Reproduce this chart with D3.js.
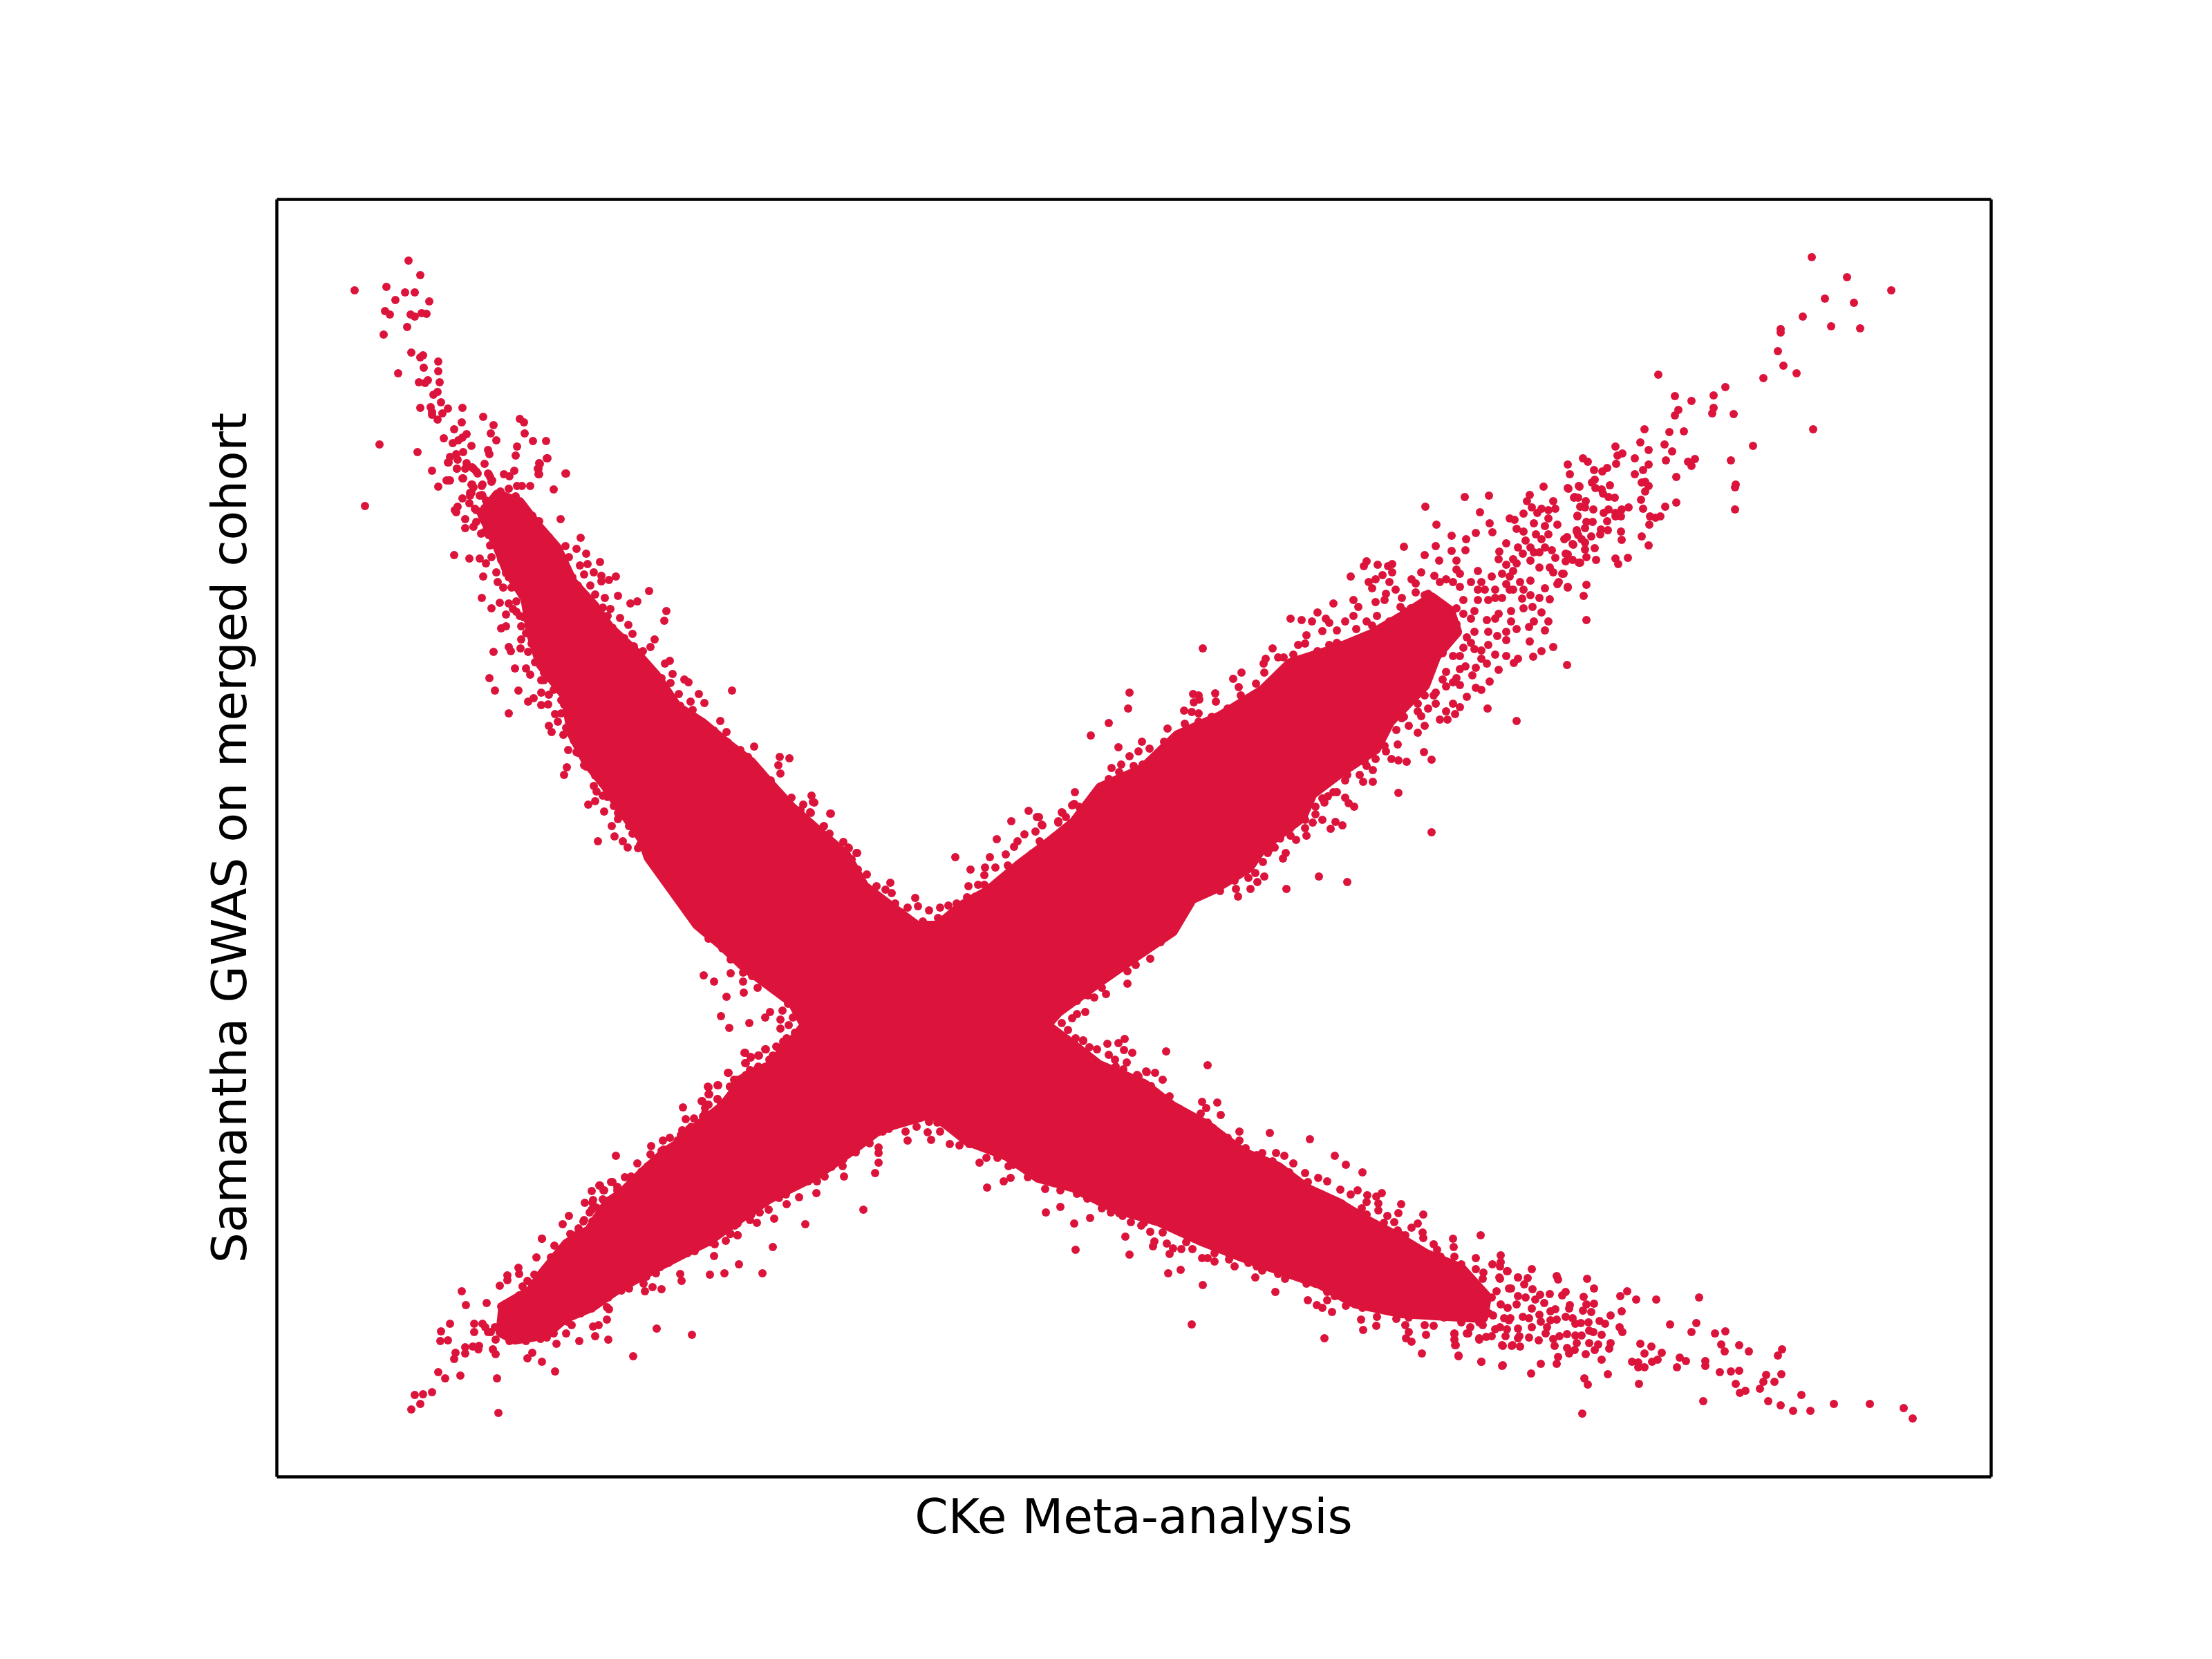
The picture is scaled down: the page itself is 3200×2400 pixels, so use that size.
<!DOCTYPE html>
<html>
<head>
<meta charset="utf-8">
<title>CKe Meta-analysis vs Samantha GWAS</title>
<script src="https://cdnjs.cloudflare.com/ajax/libs/d3/7.8.5/d3.min.js"></script>
<style>
  html, body { margin: 0; padding: 0; background: #fff; }
</style>
</head>
<body>
<div id="chart"></div>
<script>
// no ticks on the original, so the units here are only read off the picture
const xLabel = 'CKe Meta-analysis';
const yLabel = 'Samantha GWAS on merged cohort';
const xDomain = [0, 24.8];
const yDomain = [0, 18.48];

// outline of the part of the X where the dots overlap into a solid area
const denseOutline = [
  [3.2,14.2],[3.52,14.08],[3.78,13.74],[4.05,13.43],[4.28,12.93],[4.59,12.59],[4.81,12.28],[5.17,11.94],[5.48,11.59],[5.79,11.13],
  [6.15,10.9],[6.51,10.6],[6.86,10.33],[7.13,10.02],[7.44,9.68],[7.88,9.29],[8.23,8.99],[8.5,8.53],[8.95,8.19],[9.26,7.96],
  [9.57,7.96],[9.93,8.26],[10.29,8.46],[10.73,8.83],[11.13,9.13],[11.54,9.46],[11.92,9.96],[12.53,10.23],[13.04,10.72],[13.65,10.99],
  [14.27,11.37],[14.67,11.76],[15.39,11.99],[15.85,12.18],[16.31,12.45],[16.71,12.71],[16.97,12.52],[17.07,12.22],[16.77,11.87],[16.61,11.45],
  [16.1,10.92],[15.9,10.53],[15.39,10.19],[14.98,9.88],[14.83,9.54],[14.27,9.12],[14.06,8.81],[13.55,8.5],[13.24,8.36],[12.96,7.89],
  [12.43,7.53],[11.8,7.09],[11.31,6.73],[11.13,6.53],[11.53,6.23],[11.89,5.95],[12.55,5.67],[12.96,5.35],[13.47,5.07],[13.98,4.68],
  [14.49,4.47],[14.9,4.16],[15.36,3.95],[15.77,3.7],[16.22,3.46],[16.63,3.21],[17.14,3],[17.5,2.6],[17.45,2.3],
  [16.94,2.33],[16.28,2.37],[15.61,2.51],[15.1,2.79],[14.49,3],[13.98,3.18],[13.37,3.42],[12.76,3.7],[12.14,3.88],
  [11.53,4.19],[11.02,4.33],[10.56,4.65],[10,4.86],[9.71,5.09],[9.48,5.26],[8.9,5.09],[8.67,4.99],[8.33,4.73],[7.8,4.36],
  [7.13,4.03],[6.63,3.69],[6.27,3.43],[5.55,3.06],[4.95,2.73],[4.56,2.46],[4.16,2.29],[3.89,2.06],[3.45,1.99],[3.25,2.09],
  [3.29,2.46],[3.69,2.69],[3.85,2.93],[4.2,3.36],[4.53,3.56],[4.8,3.96],[5,4.09],[5.3,4.39],[5.63,4.69],[5.9,4.86],
  [6.13,5.09],[6.47,5.36],[6.8,5.79],[7.13,5.93],[7.25,6.06],[7.52,6.36],[7.65,6.53],[7.47,6.86],[7.16,7.09],[6.76,7.39],
  [6.45,7.69],[6.09,7.99],[5.39,8.96],[5.3,9.22],[5.03,9.6],[4.77,9.99],[4.5,10.33],[4.28,10.75],[4.19,11.29],[3.83,11.75],
  [3.69,12.2],[3.61,12.7],[3.34,13.12],[3.2,13.47],[2.98,13.93]
];

// upper left arm
const northWestPoints = [
  [1.91,17.59],[2.08,17.38],[1.13,17.16],[1.59,17.21],[1.86,17.13],[2,17.13],[1.72,17.02],[2.21,17],[1.57,16.86],[1.64,16.81],
  [1.94,16.81],[2,16.78],[2.1,16.83],[2.17,16.82],[1.89,16.63],[1.55,16.52],[1.95,16.26],[2.12,16.22],[2.08,16.19],[2.34,16.13],
  [2.13,16.04],[2.34,15.99],[1.76,15.96],[2.19,15.86],[2.06,15.83],[2.15,15.82],[2.36,15.83],[2.33,15.69],[2.27,15.65],[2.38,15.54],
  [2.08,15.46],[2.23,15.47],[2.25,15.4],[2.25,15.36],[2.48,15.45],[2.4,15.38],[2.69,15.46],[2.33,15.29],[2.99,15.33],[2.68,15.25],
  [3.52,15.3],[3.58,15.25],[3.14,15.21],[2.57,15.15],[3.1,15.09],[3.59,15.09],[2.75,15.08],[2.69,15.03],[2.63,14.99],[2.42,15.02],
  [2.55,14.95],[3.18,14.99],[3.71,14.98],[3.9,14.98],[1.49,14.93],[2.82,14.91],[3.48,14.9],[3.06,14.85],[3.08,14.79],[2.7,14.82],
  [2.04,14.82],[2.6,14.79],[2.51,14.75],[2.62,14.71],[3.46,14.77],[3.91,14.73],[2.48,14.67],[3.8,14.66],[3.79,14.58],[2.61,14.58],
  [2.25,14.55],[3.44,14.55],[4.18,14.51],[3.29,14.5],[3.37,14.47],[3.8,14.5],[2.7,14.44],[2.46,14.41],[2.51,14.41],[2.34,14.32],
  [4.01,14.28],[3.67,14.33],[3.48,14.33],[3.55,14.33],[3.36,14.29],[1.28,14.04],[2.62,14.03],[2.58,13.98],
  [2.75,14.66],[2.83,14.6],[2.91,14.51],[3.01,14.65],[3.06,14.51],[3.12,14.41],[2.83,14.35],[2.97,14.33],[2.8,14.23],[2.69,14.15],
  [2.97,14.2],[3.04,14.11],[3.24,14.25],[3.2,14.11],[3.46,14.18],[3.52,14.11],[3.36,14.11],[3.44,14.01],[3.12,13.98],[2.89,13.98],
  [3.01,14.01],[3.6,13.95],[3.7,13.9],[2.79,14.08],
  [3.92,14.73],[3.81,14.65],[3.78,14.58],[3.79,14.5],[4.19,14.51],[3.09,14.46],[2.85,14.58],[2.69,14.44],[2.49,14.41],[2.61,14.58],
  [2.49,14.67],[2.82,14.35],[2.8,14.19],[2.98,14.19],[2.6,13.95],[2.73,13.85],[2.73,13.72],[2.85,13.74],[2.96,13.64],[3.09,13.47],
  [4.11,13.85],[3.8,13.82],[3.69,13.89],[3.94,13.59],[4.4,13.58],[4.18,13.46],[4.34,13.42],[4.48,13.35],[4.23,13.3],[4.68,13.23],
  [4.5,13.2],[4.39,13.18],[4.59,13.08],[4.45,13.05],[4.7,13.03],[4.91,13.02],[4.81,12.97],[4.7,12.95],[4.54,12.89],[4.61,12.76],
  [4.75,12.71],[4.94,12.74],[5.39,12.81],[5.22,12.66],[5.12,12.63],[4.72,12.57],[4.83,12.55],[4.79,12.45],[5.64,12.52],[5.61,12.38],
  [4.97,12.42],[5.09,12.32],[5.15,12.19],[5.47,12.11],[5.41,12],[5.3,11.94],[5.69,11.8],[5.62,11.76],[5.73,11.61],[5.9,11.53],
  [5.96,11.49],[5.7,11.48],[6.59,11.37],[6.11,11.32],[5.82,11.32],[5.99,11.21],[6.19,11.19],[6.42,10.93],[6.33,10.79],[6.51,10.77],
  [6.53,10.62],[6.91,10.56],[6.71,10.51],[7.28,10.41],[7.42,10.39],[7.26,10.29],[7.29,10.17],[7,10.2],[7.15,10.07],[7.45,9.82],
  [7.74,9.85],[7.78,9.75],[7.62,9.72],[7.73,9.6],[8.02,9.59],[7.91,9.4],[8,9.3],[8.2,9.18],[8.39,9.02],[8.27,9.1],
  [2.57,13.33],[2.79,13.28],[2.94,13.28],[3.11,13.3],[3.03,13.21],[3.25,13.26],[3.18,13.08],[2.99,13.02],[3.32,13.07],[3.2,12.94],
  [3.28,12.86],[3.4,12.86],[2.97,12.71],[3.23,12.64],[3.11,12.56],[3.47,12.66],[3.36,12.63],[3.42,12.55],[3.32,12.47],[3.32,12.3],
  [3.25,12.27],[3.52,12.45],[3.54,12.3],[3.54,12.11],[3.14,11.93],[3.36,12],[3.39,11.94],[3.53,11.98],[3.64,11.93],[3.45,11.69],
  [3.61,11.69],[3.67,11.6],[3.08,11.55],[3.16,11.37],[3.5,11.37],[3.83,11.52],[3.83,11.34],[3.64,11.21],[3.72,11.26],[3.83,11.16],
  [3.93,11.17],[3.94,11.31],[3.36,11.04],[4.03,11.03],[4.12,11.04],[4.07,10.92],[3.94,10.86],[3.98,10.77],[4.15,10.73],[4.22,10.51],
  [4.36,10.47],[4.2,10.26],[4.16,10.15],[4.45,10.29],[4.59,9.99],[4.72,9.85],[4.51,9.72],[4.61,9.77],[4.74,9.62],[4.88,9.7],
  [4.85,9.41],[4.94,9.51],[5.1,9.41],[4.89,9.26],[4.65,9.19],[5.01,9.19],[5.08,9.1],[5.19,9.33],[5.23,9.09],
  [8.01,9.59],[7.76,9.76],[7.72,9.61],[7.92,9.41],[8.28,9.09],[8.4,9.02],[8.32,8.93],[8.41,8.78],[8.54,8.71],[8.68,8.54],
  [8.88,8.59],[8.81,8.49],[8.9,8.44],[8.68,8.41],[8.95,8.29],[9.13,8.23],[9.04,8.16],[9.24,8.37],[9.28,8.25],[9.44,8.19],
  [6.08,7.98],[6.19,7.93],[6.25,7.78],[6.4,7.83],[6.45,7.64],[6.57,7.48],[6.57,7.28],[6.18,7.25],[6.33,7.16],[6.75,7.29],
  [6.75,7.16],[6.88,7.24],[6.96,7.07],[6.76,7],[6.51,6.94],[7.21,7.03],[7.4,6.84],[6.43,6.66],[6.55,6.49],[6.84,6.56],
  [7.07,6.64],[7.14,6.72],[7.32,6.74],[7.29,6.61],[7.29,6.48],[7.41,6.53],[7.47,6.64]
];
const northWestEdge = [
  [3.25,13.43],[3.14,13.52],[3.07,13.62],[3.36,13.01],[3.45,12.97],[3.56,12.78],[3.47,12.51],[3.58,12.43],[3.61,12.2],[3.69,12.05],
  [3.78,11.94],[3.74,11.78],[3.87,11.63],[3.87,11.52],[4.01,11.38],[4.12,11.23],[4.16,11.17],[4.25,10.94],[4.19,10.83],[4.3,10.65],
  [4.34,10.48],[4.48,10.27],[4.61,10.14],[4.63,9.91],[4.79,9.83],[4.9,9.79],[4.94,9.6],[5.15,9.3],[5.26,9.45],[5.26,9.14],[5.35,9.07],
  [3.74,13.66],[3.87,13.54],[4.05,13.39],[3.96,13.28],[4.12,13.16],[4.28,13.01],[4.36,12.89],[4.45,12.7],[4.65,12.55],[4.72,12.36],
  [4.86,12.28],[5.03,12.13],[5.17,12.01],[5.26,11.86],[5.39,11.67],[5.57,11.55],[5.66,11.32],[5.84,11.15],[6.02,11.09],[6.11,10.94],
  [6.24,10.79],[6.6,10.52],[6.82,10.41],[6.95,10.21],[7.22,9.91],[7.36,9.79],[7.58,9.64],[7.8,9.33],[7.98,9.18],
  [2.85,14.31],[2.94,14.19],[3.03,14.12],[2.87,14],[2.98,13.89],[2.89,13.81],[3.11,13.81],[3.2,13.7],[3,13.66],[3.11,13.62],
  [3.29,14.08],[3.47,14.12],[3.56,14],[3.69,13.77],[2.73,14.58],[2.89,14.54],[3.07,14.5],[3.11,14.39],[2.98,14.35],[2.82,14.23]
];

// upper right arm
const northEastPoints = [
  [9.6,8.23],[9.57,8.08],[9.35,8.03],[9.82,8.96],[10.04,8.78],[9.72,8.26],[9.84,8.29],[9.99,8.38],[10.11,8.39],[10.01,8.54],
  [10.15,8.56],[10.24,8.56],[10.24,8.7],[10.25,8.81],[10.42,9.22],[10.32,8.96],[10.4,8.81],[10.55,9],[10.67,9.11],[10.72,9.19],
  [10.82,9.29],[10.63,9.48],[10.88,9.63],[11,9.54],[10.98,9.33],[11.04,9.19],[10.93,9.01],[10.58,8.84],[11.07,9.43],[11.31,9.48],
  [11.36,9.61],[11.42,9.54],[11.54,9.73],
  [11.78,10.72],[12.04,10.9],[12.32,11.11],[12.34,11.34],[12.18,10.55],[12.52,10.63],[12.47,10.49],[12.63,10.53],[12.89,10.82],[12.84,10.63],
  [13.07,10.74],[12.08,10.25],[12.22,10.3],[12.34,10.42],[12.4,10.28],[12.19,10.19],[12.04,10.09],[11.92,9.98],[11.55,9.9],[11.51,9.71],
  [11.37,9.6],[11.31,9.46],[11.08,9.42],[11.03,9.54],[13.4,11.98],[13.13,11.08],[13.14,10.89],[13.27,11.2],[13.26,11.32],[13.34,11.3],
  [13.35,11.24],[13.58,11.33],[13.59,11.21],[13.24,11.06],[13.34,11.04],[13.34,10.92],[13.53,10.99],[13.76,11.11],[13.84,11.54],[13.96,11.63],
  [13.92,11.42],[13.95,11.3],[13.91,11.16],[14.09,11.2],[14.17,11.47],[14.27,11.37],[14.29,11.63],[14.28,11.76],[14.31,11.83],[14.41,11.98],
  [14.49,11.85],[14.57,11.85],[14.47,11.53],[14.71,11.89],[14.78,12.03],[14.88,12.05],[14.9,12.17],[14.67,12.41],[14.83,12.39],[14.98,12.37],
  [15.06,12.5],[15.18,12.41],[15.23,12.35],[15.13,12.23],[15.34,12.24],[15.46,12.37],[14.89,11.83],[15.06,11.94],[15.23,12.03],[15.34,12.06],
  [15.29,12.63],[15.58,12.68],[15.65,12.58],[15.58,12.45],[15.62,12.26],[15.77,12.37],[15.85,12.31],[15.8,12.14],[15.54,13.02],[15.73,13.17],
  [15.77,13.24],[15.93,13.19],[16.08,13.17],[16.14,13.2],[16.14,13.08],[16,13.04],[15.9,12.98],[15.8,12.94],[15.85,12.85],[16.1,12.94],
  [16.05,12.77],[16.19,12.83],[15.9,12.65],[16.03,12.68],[15.92,12.45],[16.31,13.45],[16.62,14.03],[16.78,13.77],[16.61,13.33],[16.77,13.46],
  [16.82,13.25],[17,13.61],[17,13.39],[17.19,14.17],[17.54,14.19],[17.41,13.95],[17.55,13.79],[17.59,13.66],[17.35,13.65],[17.21,13.56],
  [17.2,13.4],[17.07,13.25],[17.07,13.12],[16.42,12.98],[16.48,12.92],[16.56,13.08],[16.75,13.03],[16.83,12.94],[16.28,12.71],[16.48,12.79],
  [16.66,12.77],[16.26,12.58],[16.92,12.98],[17.02,12.94],[17.12,12.87],[17.38,13.1],[17.28,12.94],[17.48,12.83],[17.17,12.68],[17.38,12.68],
  [17.63,12.83],[17.84,13.86],[17.91,13.84],[18.04,13.93],[18.09,14.11],[18.13,14.2],[18.16,14.02],[18.3,14],[18.47,14.11],[18.5,14],
  [18.33,14.32],[18.69,14.29],[18.85,14.32],[18.78,14.17],[18.82,13.89],[18.53,13.77],[18.35,13.75],[18.19,13.79],[18.04,13.67],[17.94,13.71],
  [17.79,13.5],[17.69,13.38],[18.07,13.54],[17.96,13.44],[18.03,13.35],[18.22,13.63],[18.4,13.63],[18.45,13.4],[18.63,13.56],[18.76,13.48],
  [18.81,13.67],[18.65,13.35],[18.5,13.29],[18.86,13.22],[18.27,13.37],[18.14,13.25],[17.89,13.27],[17.79,13.19],[17.68,13.27],[18.47,13.08],
  [18.42,13.15],[18.27,13.15],[18.6,13.06],[18.55,12.94],[18.68,12.86],[18.53,12.91],[18.35,12.85],[18.27,12.71],[18.42,12.69],[18.17,12.58],
  [18.3,12.5],[18.04,12.56],[17.89,13.1],[18.14,12.96],[17.99,12.94],[17.84,12.83],[18.02,12.7],[17.73,12.71],[17.86,12.52],[17.68,12.48],
  [17.86,12.37],[17.53,12.68],[17.63,12.41],[17.51,12.39],[17.33,12.52],[17.17,12.48],[17.28,12.41],[17.07,12.56],[18.4,12.37],[18.35,12.24],
  [18.19,12.37],[18.12,12.29],[17.94,12.26],[17.79,12.22],[18.13,12.08],[18.47,12],[18.3,11.94],[18.18,11.86],[18.67,11.74],[17.96,11.83],
  [17.9,11.77],[17.79,11.87],[17.79,12.1],[17.66,12.16],[17.53,12.22],[17.33,12.22],[17.33,11.97],[17.43,11.95],[17.53,12.03],[17.63,11.89],
  [17.43,11.83],[17.51,11.76],[17.68,11.67],[17.55,11.5],[17.35,11.41],[17.43,11.38],[17.22,11.28],[17.35,11.7],[17.2,11.72],[17.3,11.59],
  [17.07,11.55],[17.12,11.45],[16.92,11.43],[17.02,11.49],[17.02,11.18],[17.12,11.13],[16.92,11.07],[17.05,11.03],[16.83,10.95],[16.94,10.95],
  [17.52,11.11],[17.94,10.93],[16.71,9.32],[16.61,10.86],[16.51,10.76],[16.38,10.86],[16.74,11.3],[16.77,11.18],[16.61,11.3],[16.66,11.11],
  [16.51,11.07],[16.56,11],[16.28,10.97],[16.22,10.59],[16.6,10.48],[16.71,10.37],[16.35,10.34],[16.23,10.36],[16.13,10.38],[16.05,10.49],
  [16.23,9.89],[15.86,10.22],[15.86,10.05],[15.72,10.05],[15.67,10.15],[15.77,10.28],[15.46,9.82],[15.51,9.74],[15.59,9.69],[15.46,10.07],
  [15.29,9.9],[15.21,9.84],[15.16,9.75],[15.03,9.58],[14.99,9.46],[15.13,9.5],[15.32,9.47],[15.42,9.42],[15.25,9.37],[14.88,9.38],
  [14.9,9.27],[14.75,9.21],[14.67,9.27],[14.55,9.38],[14.6,9.02],[14.56,8.94],[14.44,9.1],[14.34,9.02],[15.08,8.68],[15.49,8.6],
  [14.61,8.5],[14.29,8.68],[14.19,8.6],[14.06,8.66],[14.09,8.5],[13.88,8.5],[13.65,8.58],[13.5,8.54],[13.91,8.39],
  [12.31,7.31],[12.31,7.13],[12.64,7.49],[12.43,7.4],[12.94,7.86],[12.79,7.73],[11.94,7.07],[12,6.98],[11.83,6.93],[11.74,6.96],
  [11.58,6.88],[11.7,6.72],[11.58,6.69],[11.51,6.63],
  [22.21,17.64],[22.72,17.35],[23.36,17.16],[22.4,17.04],[22.82,16.98],[22.08,16.78],[22.49,16.64],[22.91,16.61],[21.76,16.6],[21.76,16.55],
  [21.72,16.28],[21.8,16.07],[21.99,15.96],[21.51,15.89],[19.99,15.94],[20.96,15.76],[20.79,15.64],[20.23,15.63],[20.47,15.56],[20.79,15.46],
  [20.28,15.43],[20.23,15.35],[20.77,15.38],[21.08,15.37],[22.23,15.15],[19.79,15.15],[20.15,15.11],[20.36,15.12],
  [19.37,14.9],[19.85,14.85],[20.08,14.93],[20.19,14.83],[21.36,14.91],[19.73,14.96],[19.47,14.8],[19.4,14.77],[19.65,14.73],[18.9,14.73],
  [18.97,14.68],[20.1,14.7],[20.52,14.72],[20.42,14.68],[20.47,14.62],[21.04,14.7],[18.68,14.64],[19.38,14.65],[19.85,14.64],[19.06,14.56],
  [19.25,14.59],[19.18,14.54],[19.77,14.56],[18.71,14.5],[19.65,14.5],[20.25,14.46],[19.07,14.42],[19.03,14.38],[19.75,14.38],[19.8,14.39],
  [19.85,14.33],[19.29,14.34],[18.84,14.33],[18.68,14.3],[19.08,14.3],[19.17,14.28],[19.8,14.25],[19.19,14.22],[19.27,14.17],[19.36,14.16],
  [18.77,14.16],[18.83,14.16],[18.94,14.11],[18.86,14.03],[18.93,14.02],[19.05,13.99],[19.74,14.13],[20.25,14.09],[20.09,14.03],[19.77,14],
  [21.1,13.99],[21.11,14.35],[21.1,14.31],[19.56,14.02],[19.46,13.99],[19.27,13.99],[19.37,13.94],[18.82,13.9],[19.2,13.94],[19.87,13.89],
  [20.02,13.89],[19.95,13.87],[19.45,13.89],[19.37,13.89],[19.25,13.82],[18.95,13.81],[19.04,13.81],[19.86,13.77],[18.93,13.72],[18.81,13.69],
  [19.16,13.7],[19.26,13.69],[19.45,13.67],[19.15,13.63],[18.83,13.62],[19.02,13.6],[18.67,13.59],[19.75,13.6],[18.88,13.56],[19.46,13.55],
  [18.93,13.51],[18.75,13.49],[19.85,13.47],[19.07,13.43],[18.93,13.41],[18.68,13.34],[18.95,13.3],[19.55,13.29],[19.37,13.28],[19.41,13.2],
  [19.09,13.26],[18.75,13.26],[18.84,13.22],[18.65,13.24],[18.62,13.06],[18.95,12.9],[18.68,12.87],[18.91,12.74],[18.95,12.39]
];
const northEastEdge = [
  [16.31,10.99],[16.2,10.8],[16.03,10.57],[15.9,10.38],[15.74,10.34],[15.49,10.15],[15.34,9.9],[15.13,9.81],[15.03,9.69],[14.88,9.5],
  [14.67,9.38],[14.52,9.23],[14.37,9.08],[14.27,8.89],[14.16,8.73],[13.86,8.62],[13.65,8.47],[16.87,11.53],[16.77,11.34],[16.51,11.18],
  [16.71,11.8],[16.87,11.91],[17.02,11.87],[16.97,12.1],[17.22,12.14],[17.28,12.06],[17.12,11.87],[17.17,11.99],[16.92,11.64],[17.12,11.68],
  [15.9,12.22],[16.1,12.37],[16.31,12.52],[16.41,12.56],[16.61,12.75],[16.77,12.68],[16.92,12.56],[16.97,12.37],[17.07,12.33],[15.39,12.03],
  [15.03,11.8],[14.57,11.68],[14.37,11.49],[14.06,11.18],[13.86,11.03],[13.55,10.92],[13.4,10.8],[13.04,10.69],[12.79,10.49],[12.53,10.3],
  [12.22,10.04],[11.87,9.84],[11.61,9.69],
  [17.12,13.06],[17.43,12.94],[17.58,13.02],[17.79,12.91],[17.63,12.71],[17.38,12.83],[17.89,12.83],[18.04,12.83],[18.14,12.75],[17.73,13.06],
  [17.84,13.02],[17.94,13.21],[18.19,13.37],[18.35,13.44],[18.3,13.56],[18.14,13.44],[18.24,13.94],[18.4,13.86],[18.4,13.98]
];

// lower left arm
const southWestPoints = [
  [1.95,0.97],[2.08,1.05],[2,1.18],[2.12,1.19],[2.25,1.22],[3.21,0.92],[2.34,1.51],[2.44,1.42],[2.66,1.46],[3.19,1.42],
  [2.57,1.7],[2.59,1.79],[2.73,1.78],[2.73,1.87],[2.84,1.88],[2.93,1.89],[2.92,1.84],[3.13,1.84],[3.17,1.77],[2.37,1.96],
  [2.48,1.97],[2.38,2.1],[2.51,2.21],[2.86,2.21],[2.98,2.21],[2.86,2.09],[3.06,2.09],[3.17,1.98],[3.16,2.16],[2.74,2.48],
  [2.68,2.68],[3.04,2.51],[3.25,2.46],[3.27,2.34],[3.25,2.21],[3.37,2.18],[3.37,1.96],[3.61,1.96],[3.82,1.99],[3.91,2.01],
  [4.01,2.07],[3.7,1.79],[3.63,1.71],[3.84,1.66],[4.03,1.52],[4.05,1.92],[4.19,2.07],[4.38,1.96],[4.21,2.24],[4.27,2.19],
  [4.61,2.03],[4.58,2.17],[4.66,2.19],[4.8,1.98],[4.78,2.27],[4.78,2.45],[4.81,2.42],[5.16,1.74],[5.5,2.14],[6.01,2.05],
  [5.33,2.68],[5.44,2.74],[5.57,2.71],[5.31,2.79],[5.1,2.72],[4.99,2.69],[4.83,2.65],[4.7,2.61],[5.84,2.93],[5.86,2.83],
  [6.27,2.92],[6.48,2.94],[6.69,3.07],[7.03,2.94],[6.33,3.19],[6.05,3.26],[5.92,3.23],[5.8,3.21],[6.67,3.49],[6.56,3.51],
  [6.95,3.67],[7.18,3.32],[5.49,2.94],[5.35,2.89],[5.55,3.03],[3.5,3.02],[3.51,2.93],[3.34,2.91],[3.34,2.84],[3.23,2.76],
  [3.84,3.44],[3.76,3.17],[4.23,3.77],[4.14,3.65],[4.02,3.34],[3.97,3.17],[3.73,2.92],[3.63,2.83],[3.56,2.75],[3.51,2.62],
  [3.43,2.49],[3.89,3.01],[4.56,4.13],[4.68,4.21],[4.46,3.96],[4.58,4],[4.74,4.14],[4.86,4.26],[4.93,4.14],
  [4.91,4.64],[5.22,4.53],[5.42,4.78],[5.41,4.66],[5.59,4.86],[5.69,4.9],[5.57,4.71],[5.88,5.34],[5.87,5.01],[5.85,4.94],
  [5.97,5.03],[5.92,5.17],[6.04,5.18],[6.15,5.43],[6.24,5.64],[6.26,5.53],[6.38,5.66],[6.38,5.46],[6.25,5.38],[6.17,5.21],
  [6.48,5.41],[6.56,5.64],[6.53,5.84],[6.63,5.56],[6.62,5.74],[6.73,5.76],[6.78,6.13],[6.86,6.06],[6.78,5.98],[6.85,5.88],
  [6.95,5.89],[6.98,6.09],[7.08,6.18],[7.23,6.22],[7.18,6.09],[7.33,6.29],[4.84,4.26],[5.04,4.33],[5.13,4.34],[5.28,4.41],
  [4.67,4.21],[4.73,4.14],[4.57,3.96],[4.72,4.01],[4.45,3.71],[4.53,3.82],[4.37,3.59],[4.25,3.51],[3.84,3.44],[4.22,3.39],
  [8.58,4.82],[8.71,4.76],[8.71,4.68],[8.71,4.54],[8.66,4.39],[8.49,3.86],[8.21,4.34],[8.19,4.49],[8.38,4.69],[8.03,4.48],
  [7.93,4.34],[7.82,4.27],[7.81,4.1],[7.69,4.27],[7.65,3.65],[7.56,4.04],[7.38,3.94],[7.49,4.19],[7.37,4.08],[7.27,4.03],
  [7.2,3.73],[7.12,3.86],[6.99,3.82],[6.85,3.71],[6.67,3.49],[6.63,3.63],[6.57,3.51],[6.5,3.41],[8.86,5.03],[8.77,4.99],
  [7.5,6.42],[7.38,6.34],[7.25,6.21],[7.07,6.18],[6.97,6.09],[6.77,6.13],[6.86,6.07],[6.79,5.98],[6.54,5.84],[6.67,5.74],
  [6.67,5.56],[6.56,5.64],[6.39,5.66],[6.25,5.63],[6.25,5.53],[6.38,5.46],[6.16,5.43],[6.49,5.41],[6.2,5.33]
];
const southWestEdge = [
  [8.4,4.76],[8.2,4.59],[7.93,4.46],[7.63,4.29],[7.3,4.16],[7.07,3.96],[6.87,3.79],[6.67,3.66],[6.43,3.56],[6.27,3.39],
  [7.13,6.03],[6.97,5.93],[6.73,5.73],[6.6,5.63],[6.43,5.39],[6.2,5.26],[6,5.06],[5.8,4.86],[5.6,4.73],[5.37,4.49],
  [5.13,4.29],[4.93,4.19],[4.8,3.99],[4.63,3.89],[4.57,3.69],[4.37,3.53],
  [6.34,3.36],[5.94,3.23],[5.67,3.09],[5.35,2.96],[5.11,2.79],[4.8,2.59],[4.56,2.43],[4.4,2.36],[4.16,2.29],[3.97,2.13],
  [3.77,2.06],[3.53,2.03],[3.37,2.06],[3.57,2.19],[3.45,2.36],[3.29,2.36],[3.57,2.49],[3.77,2.69],[3.69,2.79],[3.85,2.89],
  [4.01,3.09],[4.16,3.33],[4.28,3.49],[4.44,3.69],[4.56,3.86],[3.93,2.29],[3.1,2.09],[3.02,2.16]
];

// lower right arm
const southEastPoints = [
  [9.44,5.24],[9.44,5.13],[9.56,5.12],[9.42,4.98],[9.6,4.99],[9.47,4.87],[9.1,4.99],[9.13,4.86],[9.74,4.81],[9.88,4.79],
  [10.02,4.81],[9.26,5.06],[9.82,5.03],[9.93,4.96],[10.15,4.83],
  [11.36,6.56],[11.45,6.46],[11.56,6.34],[11.67,6.3],[12.02,6.26],[12.18,6.27],[12.27,6.33],[12.26,6.17],[12.38,6.13],[12.87,6.15],
  [11.76,6.21],[11.87,6.18],[12.04,6.1],[12.13,6.03],[12.3,5.99],[12.25,5.89],[12.58,5.86],[12.71,5.84],[12.82,5.74],[12.72,5.56],
  [12.92,5.5],[12.47,5.79],[11.67,6.31],[13.47,5.95],[12.59,5.85],[13.04,5.33],[13.23,5.21],[13.39,5.42],[13.45,5.33],[13.61,5.41],
  [13.66,5.23],[13.37,5.25],[13.47,5.12],[13.55,5.04],[13.76,4.9],[13.93,4.99],[13.93,4.86],[14.02,4.75],[14.37,4.97],[14.95,4.88],
  [14.26,4.68],[14.46,4.68],[14.58,4.64],[14.71,4.53],[14.65,4.4],[14.41,4.56],[14.88,4.39],[15.07,4.32],[15.2,4.27],[14.92,4.26],
  [15.31,4.64],[15.47,4.51],[15.71,4.4],[15.39,4.15],[15.54,4.08],[15.64,4.14],[15.78,4.07],[15.99,4.1],[15.91,4.05],[15.77,3.97],
  [15.94,3.95],[16.27,3.94],[15.94,3.85],[15.7,3.88],[15.77,3.79],[16.07,3.77],[16.23,3.81],[16.59,3.79],[16.51,3.66],[16.42,3.6],
  [16.17,3.68],[16.22,3.56],[16.58,3.53],[16.59,3.45],[16.33,3.49],[17.02,3.44],[17.42,3.49],[16.74,3.36],[17.03,3.32],[16.79,3.28],
  [16.63,3.23],[17.35,3.16],[17.71,3.2],[17.71,3.1],[17.59,3.07],[17.7,3.04],[17.81,2.97],[17.46,2.95],[17.35,3],[17.04,3.18],
  [17.7,2.86],[17.96,2.88],[10.04,4.81],[10.27,4.61],[10.17,4.54],[10.62,4.32],[10.52,4.27],[10.28,4.18],[10.43,4.61],[10.59,4.49],
  [10.87,4.33],[11.12,4.16],[11.34,4.14],[11.58,4.09],[11.13,3.82],[11.34,3.9],[11.77,3.74],[11.54,3.66],[11.56,3.28],[11.94,3.88],
  [12.07,3.82],[12.24,3.77],[12.36,3.68],[12.51,3.63],[12.28,3.47],[12.34,3.21],[12.64,3.54],[12.82,3.53],[12.7,3.4],[12.68,3.33],
  [12.88,3.37],[12.97,3.3],[12.92,3.22],[13.09,3.29],[13.25,3.29],[13.39,3.16],[13.47,3.16],[13.57,3.11],[13.57,3.23],[13.08,2.99],
  [12.9,2.94],[13.4,2.77],[13.24,2.2],[13.86,3.04],[13.78,3.21],[14.06,3.09],[14.26,2.98],[14.16,2.88],[14.49,2.98],[14.59,2.86],
  [14.45,2.67],[14.77,2.9],[15.03,2.79],[15.2,2.67],[15.36,2.72],[14.92,2.55],[15.05,2.48],[15.13,2.44],[15.2,2.55],[15.27,2.38],
  [15.47,2.47],[15.61,2.51],[15.69,2.27],[15.72,2.12],[15.16,2],[15.91,2.18],[15.92,2.31],[15.87,2.47],[16.2,2.28],[16.33,2.19],
  [16.38,2.09],[16.34,2],[16.42,1.95],[16.61,2.19],[16.74,2.18],[16.63,2.05],[16.57,1.78],[17.04,2.07],[17.04,1.98],[17.06,1.9],
  [17.1,1.74],[17.43,1.66],[17.73,1.6],[16.89,2.3],[17.24,2.07],[17.4,2],[17.5,2.02],[17.7,2.16],[17.73,1.9],[17.88,1.9],
  [17.83,2.26],[17.96,2],
  [17.8,2.97],[18.16,3],[17.96,2.88],[18.1,2.87],[17.69,2.88],[18.52,2.9],[18.54,2.85],[18.96,2.86],[19.06,2.72],[19.54,2.68],
  [19.44,2.61],[19.67,2.56],[19.96,2.56],[20.58,2.59],[18.65,2.67],[18.6,2.62],[18.91,2.6],[18.42,2.64],[18.28,2.63],[18.17,2.71],
  [18.05,2.78],[17.83,2.72],[17.96,2.61],[19.06,2.5],[18.95,2.49],[18.71,2.48],[18.7,2.43],[18.9,2.4],[19.02,2.38],[19.46,2.39],
  [19.3,2.33],[19.14,2.25],[19.22,2.21],[18.98,2.23],[18.87,2.22],[18.79,2.21],[18.75,2.29],[18.65,2.31],[18.52,2.27],[18.43,2.39],
  [18.5,2.42],[18.43,2.26],[18.29,2.24],[18.27,2.34],[18.34,2.51],[18.16,2.43],[18.16,2.16],[17.96,2.14],[17.85,2.29],[18.03,2.31],
  [19.43,2.16],[19.47,2.09],[20.16,2.2],[20.54,2.22],[20.47,2.09],[20.81,2.07],[20.96,2.1],[19.17,2.05],[19.05,2.09],[18.99,2.11],
  [18.88,2.04],[18.79,2.04],[18.67,2.06],[18.56,2.03],[18.36,2.07],[18.47,1.99],[18.26,1.97],[18.12,2.01],[17.98,2.03],[17.78,2.03],
  [17.74,1.89],[17.87,1.89],[17.99,1.88],[17.58,2.03],[17.4,1.98],[17.22,2.07],[17.04,2.06],[17.05,1.9],[17.1,1.75],[17.43,1.66],
  [17.74,1.61],[18.29,1.63],[18.15,1.49],[18.52,1.63],[18.54,1.73],[18.49,1.89],[18.67,1.86],[18.78,1.83],[18.7,1.78],[18.81,1.93],
  [18.99,1.93],[18.94,1.77],[19.12,1.91],[19.07,1.83],[19.3,1.93],[19.28,1.85],[19.17,1.69],[19.26,1.48],[18.92,1.42],[18.97,1.33],
  [18.89,0.91],[19.73,1.92],[19.89,1.88],[19.79,1.78],[20.04,1.79],[19.98,1.69],[19.9,1.66],[19.61,1.66],[19.7,1.65],[19.7,1.58],
  [19.79,1.58],[19.71,1.34],[20.3,1.72],[20.39,1.67],[20.26,1.58],[20.67,1.67],[20.67,1.6],[20.9,1.91],[20.95,1.81],[21.16,1.9],
  [21.3,1.81],[20.88,1.51],[21.04,1.52],[21.16,1.53],[21.11,1.34],[21.17,1.21],[21.25,1.24],[20.64,1.09],[21.78,1.84],[21.72,1.75],
  [21.77,1.48],[21.55,1.47],[21.51,1.37],[21.67,1.37],[21.46,1.27],[21.58,1.09],[21.76,1.03],[21.94,0.95],[22.19,0.95],[22.06,1.18],
  [22.53,1.05],[23.05,1.05],[23.54,0.99],[23.67,0.84]
];
const southEastEdge = [
  [11.79,6.05],[12.14,5.93],[12.45,5.81],[12.65,5.65],[12.86,5.47],[13.06,5.32],[13.32,5.18],[13.57,5],[13.88,4.79],[14.18,4.65],
  [14.49,4.47],[14.69,4.3],[15.1,4.09],[15.41,3.95],[15.66,3.81],[16.02,3.67],[16.28,3.49],[16.53,3.28],[16.84,3.18],[17.14,3.07],
  [17.45,2.86],[17.65,2.68],[17.86,2.72],
  [17.14,2.23],[17.4,2.23],[17.6,2.33],[17.81,2.44],[16.68,2.37],[16.38,2.3],[16.07,2.4],[15.71,2.44],[15.31,2.61],[14.9,2.79],
  [14.49,2.93],[14.18,3.04],[13.78,3.14],[13.16,3.39],[12.55,3.67],[12.19,3.81],[11.73,4.02],[11.33,4.23],[10.92,4.4],[10.66,4.51],[10.36,4.75],
  [17.18,2.83],[17.4,2.73],[17.58,2.59],[17.71,2.49],[17.54,2.36],[17.76,2.29],[17.94,2.49],[18.07,2.59],[17.45,2.19],[17.27,2.16],
  [17.63,2.13],[17.8,2.13],[18.12,2.29],[18.38,2.16],[18.21,2.56]
];

const margin = { top: 288, right: 320, bottom: 264, left: 400 };
const width = 3200 - margin.left - margin.right;
const height = 2400 - margin.top - margin.bottom;
const pointColor = '#dc143c';

const svg = d3.select('#chart')
  .append('svg')
  .attr('width', 3200)
  .attr('height', 2400)
  .style('display', 'block')
  .style('font-family', '"DejaVu Sans", sans-serif');

const g = svg.append('g')
  .attr('transform', `translate(${margin.left},${margin.top})`);

const x = d3.scaleLinear().domain(xDomain).range([0, width]);
const y = d3.scaleLinear().domain(yDomain).range([height, 0]);

// Solid middle of the X
const outline = d3.line()
  .x((d) => x(d[0]))
  .y((d) => y(d[1]))
  .curve(d3.curveLinearClosed);

g.append('path')
  .datum(denseOutline)
  .attr('fill', pointColor)
  .attr('stroke', pointColor)
  .attr('stroke-width', 16)
  .attr('stroke-linejoin', 'round')
  .attr('d', outline);

// Separate dots
const allPoints = [
  ...northWestPoints, ...northWestEdge,
  ...northEastPoints, ...northEastEdge,
  ...southWestPoints, ...southWestEdge,
  ...southEastPoints, ...southEastEdge
];

g.selectAll('circle')
  .data(allPoints)
  .enter()
  .append('circle')
  .attr('cx', (d) => x(d[0]))
  .attr('cy', (d) => y(d[1]))
  .attr('r', 6)
  .attr('fill', pointColor);

// Axes without ticks, only the frame
g.append('g')
  .attr('transform', `translate(0,${height})`)
  .call(d3.axisBottom(x).tickValues([]).tickSizeOuter(0))
  .select('.domain').attr('stroke', '#000').attr('stroke-width', 4.44);

g.append('g')
  .call(d3.axisLeft(y).tickValues([]).tickSizeOuter(0))
  .select('.domain').attr('stroke', '#000').attr('stroke-width', 4.44);

g.append('g')
  .call(d3.axisTop(x).tickValues([]).tickSizeOuter(0))
  .select('.domain').attr('stroke', '#000').attr('stroke-width', 4.44);

g.append('g')
  .attr('transform', `translate(${width},0)`)
  .call(d3.axisRight(y).tickValues([]).tickSizeOuter(0))
  .select('.domain').attr('stroke', '#000').attr('stroke-width', 4.44);

// Labels
g.append('text')
  .attr('x', width / 2)
  .attr('y', height + 82)
  .attr('fill', 'black')
  .style('font-size', '69.4px')
  .style('text-anchor', 'middle')
  .text(xLabel);

g.append('text')
  .attr('transform', `translate(-44,${height / 2}) rotate(-90)`)
  .attr('fill', 'black')
  .style('font-size', '69.4px')
  .style('text-anchor', 'middle')
  .text(yLabel);
</script>
</body>
</html>
